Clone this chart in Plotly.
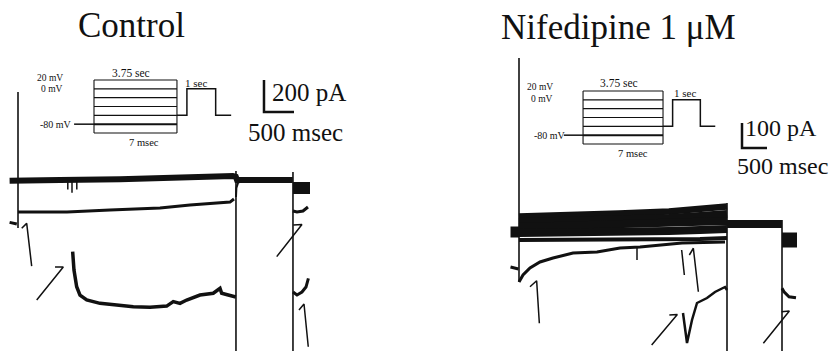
import plotly.graph_objects as go

# ======================= DATA =======================
# Control panel: time (ms, from onset of 3.75 s step), current (pA)
ctl_top_t = [-140, 0, 700, 1700, 2700, 3580, 3630, 3650, 4000, 4580]
ctl_top_i = [-5, -5, 0, 5, 20, 25, 20, 0, 0, 0]
ctl_spike_t = [830, 830, None, 900, 900, None, 980, 980]
ctl_spike_i = [0, -60, None, 0, -80, None, 0, -60]
ctl_tail_t = [3633, 3640, 3667, 3717]
ctl_tail_i = [-106, -50, -19, -6]
ctl_mid_t = [0, 817, 1533, 2367, 2867, 3533, 3600]
ctl_mid_i = [-200, -200, -188, -175, -156, -138, -119]
ctl_mid_post_t = [4583, 4650, 4750, 4833]
ctl_mid_post_i = [-194, -200, -194, -169]
ctl_low_t = [911, 933, 978, 1033, 1145, 1367, 1645, 1922, 2200, 2478, 2588, 2700,
             2812, 3033, 3255, 3367, 3395, 3588, 3630]
ctl_low_i = [-448, -563, -667, -719, -750, -771, -781, -792, -796, -788, -760, -771,
             -750, -719, -708, -677, -708, -729, -731]
ctl_low_post_t = [4583, 4650, 4733, 4800, 4840]
ctl_low_post_i = [-700, -719, -700, -669, -615]
ctl_stub_t = [-140, -20]
ctl_stub_i = [-265, -275]
ctl_post_blob_t = [4583, 4867]
ctl_post_blob_i = [-50, -50]
ctl_edges_t = [0, 0, None, 3633, 3633, None, 4583, 4583]
ctl_edges_i = [550, -300, None, 56, -1200, None, 50, -1200]
ctl_marks_t = [62, 145, 228, None, 617, 755, 312, None, 4588, 4733, 4312, None, 4683, 4767, 4838]
ctl_marks_i = [-302, -271, -538, None, -544, -544, -750, None, -281, -278, -479, None, -813, -775, -1042]
ctl_bar_t = [4100, 4100, 4600]
ctl_bar_i = [625, 425, 425]

# Nifedipine panel: time (ms), current (pA)
nif_step_t = [0, 1000, 2000, 3000, 3620, 4160]
nif_tr1_i = [62, 66, 74, 82, 90, 102]
nif_tr2_i = [40, 44, 52, 56, 64, 72]
nif_tr3_i = [20, 24, 28, 32, 36, 44]
nif_tr4_i = [-4, -4, 0, 4, 8, 12]
nif_tr5_i = [-32, -32, -28, -28, -28, -24]
nif_pre_t = [-170, 0]
nif_pre_i = [0, 0]
nif_stub_t = [-170, -10]
nif_stub_i = [-140, -148]
nif_decay_t = [0, 80, 220, 420, 680, 1080, 1560, 2020, 2420, 3260, 4120]
nif_decay_i = [-200, -172, -144, -120, -104, -84, -80, -64, -60, -44, -40]
nif_spike_t = [2360, 2360]
nif_spike_i = [-60, -112]
nif_notch_t = [3280, 3360, 3460, 3560, 3760, 3920, 4120, 4160]
nif_notch_i = [-324, -444, -352, -284, -264, -240, -220, -232]
nif_pulse_t = [4160, 5260]
nif_pulse_i = [32, 32]
nif_post_blob_t = [5260, 5560]
nif_post_blob_i = [-32, -32]
nif_post_t = [5260, 5300, 5400, 5540]
nif_post_i = [-225, -239, -259, -263]
nif_edges_t = [0, 0, None, 4160, 4160, None, 5260, 5260]
nif_edges_i = [696, -200, None, 116, -600, None, 48, -600]
nif_marks_t = [220, 353, 407, None, 3253, 3307, None, 3407, 3487, 3587, None,
               3007, 3167, 2653, None, 5253, 5407, 4887]
nif_marks_i = [-219, -195, -365, None, -72, -172, None, -92, -65, -239, None,
               -332, -330, -452, None, -319, -316, -445]
nif_bar_t = [4460, 4460, 4960]
nif_bar_i = [436, 336, 336]

# Voltage protocol (schematic): seconds, mV
proto_levels = [20, 0, -20, -40, -60, -80, -100]
proto_step_t = [0, 3.75]
proto_hold_t = [-0.9, 0]
proto_hold_v = [-80, -80]
proto_tail_t = [3.75, 4.2, 4.2, 5.5, 5.5, 6.2]
proto_tail_v = [-60, -60, 0, 0, -60, -60]

titles = ["Control", "Nifedipine 1 \u03bcM"]
scale_labels = [("200 pA", "500 msec"), ("100 pA", "500 msec")]

# ======================= FIGURE =======================
INK = "#111111"
SERIF = "Liberation Serif, Times New Roman, serif"
fig = go.Figure()


def line(t, v, w, xa, ya, color=INK):
    fig.add_trace(go.Scatter(x=t, y=v, mode="lines", xaxis=xa, yaxis=ya,
                             line=dict(color=color, width=w), hoverinfo="skip",
                             showlegend=False, connectgaps=False))


# Control traces
line(ctl_edges_t, ctl_edges_i, 1.6, "x", "y")
line(ctl_top_t, ctl_top_i, 6, "x", "y")
line(ctl_spike_t, ctl_spike_i, 1.5, "x", "y")
line(ctl_tail_t, ctl_tail_i, 2, "x", "y")
line(ctl_mid_t, ctl_mid_i, 3, "x", "y")
line(ctl_mid_post_t, ctl_mid_post_i, 3, "x", "y")
line(ctl_low_t, ctl_low_i, 3.5, "x", "y")
line(ctl_low_post_t, ctl_low_post_i, 3, "x", "y")
line(ctl_stub_t, ctl_stub_i, 3, "x", "y")
line(ctl_post_blob_t, ctl_post_blob_i, 12, "x", "y")
line(ctl_marks_t, ctl_marks_i, 1.5, "x", "y")
line(ctl_bar_t, ctl_bar_i, 2.5, "x", "y")

# Nifedipine traces
line(nif_edges_t, nif_edges_i, 1.6, "x2", "y2")
for tr, w in [(nif_tr1_i, 6.5), (nif_tr2_i, 8), (nif_tr3_i, 8), (nif_tr4_i, 8), (nif_tr5_i, 4)]:
    line(nif_step_t, tr, w, "x2", "y2")
line(nif_pre_t, nif_pre_i, 11, "x2", "y2")
line(nif_stub_t, nif_stub_i, 3, "x2", "y2")
line(nif_decay_t, nif_decay_i, 3, "x2", "y2")
line(nif_spike_t, nif_spike_i, 1.5, "x2", "y2")
line(nif_notch_t, nif_notch_i, 2.5, "x2", "y2")
line(nif_pulse_t, nif_pulse_i, 8, "x2", "y2")
line(nif_post_blob_t, nif_post_blob_i, 15, "x2", "y2")
line(nif_post_t, nif_post_i, 3, "x2", "y2")
line(nif_marks_t, nif_marks_i, 1.5, "x2", "y2")
line(nif_bar_t, nif_bar_i, 2.5, "x2", "y2")

# Protocol insets
for xa, ya in [("x3", "y3"), ("x4", "y4")]:
    for lv in proto_levels:
        line(proto_step_t, [lv, lv], 2 if lv == -80 else 1.1, xa, ya)
    line([proto_step_t[0], proto_step_t[0], None, proto_step_t[1], proto_step_t[1]],
         [proto_levels[0], proto_levels[-1], None, proto_levels[0], proto_levels[-1]], 1.1, xa, ya)
    line(proto_hold_t, proto_hold_v, 1.5, xa, ya)
    line(proto_tail_t, proto_tail_v, 1.5, xa, ya)

ann = []


def txt(s, x, y, xref, yref, size, xanchor="center", yanchor="middle"):
    ann.append(dict(text=s, x=x, y=y, xref=xref, yref=yref, showarrow=False,
                    xanchor=xanchor, yanchor=yanchor, borderpad=0,
                    font=dict(family=SERIF, size=size, color=INK)))


txt(titles[0], 0.159, 0.926, "paper", "paper", 35)
txt(titles[1], 0.7446, 0.923, "paper", "paper", 35)
txt(scale_labels[0][0], 4217, 550, "x", "y", 25, "left")
txt(scale_labels[0][1], 3817, 300, "x", "y", 25, "left")
txt(scale_labels[1][0], 4500, 416, "x2", "y2", 24, "left")
txt(scale_labels[1][1], 4340, 264, "x2", "y2", 24, "left")

# inset labels
for xr, yr, pos in [("x3", "y3", dict(l20=(-1.36, 24), l0=(-1.36, -1), l80=(-0.95, -80),
                                        s375=(1.67, 36), s7=(2.24, -121), s1=(4.61, 13))),
                    ("x4", "y4", dict(l20=(-1.36, 28), l0=(-1.36, 3), l80=(-0.75, -80),
                                        s375=(1.69, 38), s7=(2.35, -121), s1=(4.78, 15)))]:
    txt("20 mV", *pos["l20"], xr, yr, 9.5, "right")
    txt("0 mV", *pos["l0"], xr, yr, 9.5, "right")
    txt("-80 mV", *pos["l80"], xr, yr, 10, "right")
    txt("3.75 sec", *pos["s375"], xr, yr, 11.5)
    txt("7 msec", *pos["s7"], xr, yr, 10.5)
    txt("1 sec", *pos["s1"], xr, yr, 11)

hid = dict(visible=False, fixedrange=True, showgrid=False, zeroline=False)
fig.update_layout(
    width=830, height=351, margin=dict(l=0, r=0, t=0, b=0),
    paper_bgcolor="white", plot_bgcolor="rgba(0,0,0,0)",
    showlegend=False, annotations=ann,
    xaxis=dict(hid, domain=[0, 0.5], range=[-300, 6617], anchor="y"),
    yaxis=dict(hid, domain=[0, 1], range=[-1068.75, 1125], anchor="x"),
    xaxis2=dict(hid, domain=[0.5, 1], range=[-2080, 6220], anchor="y2"),
    yaxis2=dict(hid, domain=[0, 1], range=[-476, 928], anchor="x2"),
    xaxis3=dict(hid, domain=[0, 0.5], range=[-4.249, 14.51], anchor="y3"),
    yaxis3=dict(hid, domain=[0, 1], range=[-593.5, 201.1], anchor="x3"),
    xaxis4=dict(hid, domain=[0.5, 1], range=[-7.88, 11.58], anchor="y4"),
    yaxis4=dict(hid, domain=[0, 1], range=[-568.6, 226.0], anchor="x4"),
)
fig.write_html("out.html")
